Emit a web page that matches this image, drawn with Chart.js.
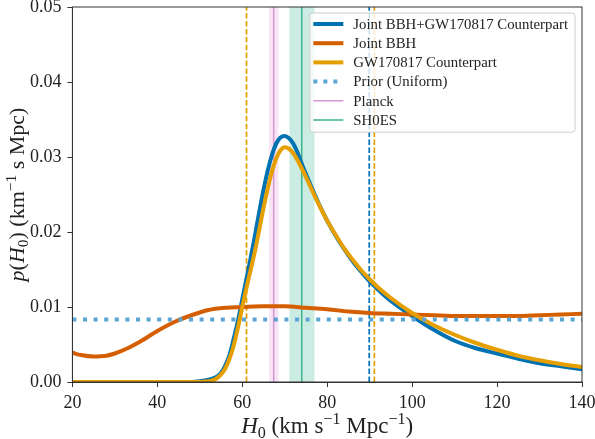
<!DOCTYPE html>
<html>
<head>
<meta charset="utf-8">
<script src="https://cdn.jsdelivr.net/npm/chart.js@4.4.1/dist/chart.umd.min.js"></script>
<style>
	html, body { margin: 0; padding: 0; background: #fff; }
	#wrap { width: 595px; height: 439px; }
</style>
</head>
<body>
<div id="wrap"><canvas id="myChart" width="595" height="439"></canvas></div>
<script>
// Eixos
const xTicks = [20, 40, 60, 80, 100, 120, 140];
const yTicks = [0, 0.01, 0.02, 0.03, 0.04, 0.05];

// Joint BBH+GW170817 Counterpart (blau)
const xJoint = [20, 40, 48, 50, 52, 54, 55, 56, 57, 58, 59, 60, 61, 62, 63, 64, 65, 66, 67, 68, 69, 70, 71, 72, 73, 74, 76, 78, 80, 82, 84, 86, 88, 90, 92, 95, 100, 105, 110, 115, 120, 125, 130, 135, 140];
const yJoint = [0, 0, 0, 0.0001, 0.0003, 0.0007, 0.0012, 0.0022, 0.0036, 0.0058, 0.0082, 0.0110, 0.0138, 0.0166, 0.0196, 0.0227, 0.0256, 0.0282, 0.0303, 0.0318, 0.0326, 0.0328, 0.0325, 0.0318, 0.0306, 0.0291, 0.0264, 0.0238, 0.0215, 0.0195, 0.0177, 0.0161, 0.0147, 0.0134, 0.0123, 0.0108, 0.0088, 0.0070, 0.0055, 0.0045, 0.0038, 0.0031, 0.0025, 0.0021, 0.0017];

// Joint BBH (vermell)
const xBBH = [20, 22, 25, 28, 30, 33, 36, 40, 44, 48, 52, 56, 60, 65, 70, 75, 80, 85, 90, 95, 100, 105, 110, 115, 120, 125, 130, 135, 140];
const yBBH = [0.0039, 0.0036, 0.0034, 0.0035, 0.0038, 0.0045, 0.0054, 0.0068, 0.0080, 0.0089, 0.0096, 0.0099, 0.0100, 0.0101, 0.0101, 0.0099, 0.0097, 0.0094, 0.0092, 0.0091, 0.0090, 0.0089, 0.0088, 0.0088, 0.0088, 0.0088, 0.0089, 0.0090, 0.0091];

// GW170817 Counterpart (taronja)
const xGW = [20, 40, 48, 50, 52, 53, 54, 55, 56, 57, 58, 59, 60, 61, 62, 63, 64, 65, 66, 67, 68, 69, 70, 71, 72, 73, 74, 76, 78, 80, 82, 84, 86, 88, 90, 92, 95, 100, 105, 110, 115, 120, 125, 130, 135, 140];
const yGW = [0, 0, 0, 0, 0.0001, 0.0002, 0.0005, 0.0010, 0.0018, 0.0031, 0.0049, 0.0073, 0.0100, 0.0126, 0.0150, 0.0175, 0.0203, 0.0232, 0.0258, 0.0281, 0.0298, 0.0309, 0.0313, 0.0311, 0.0305, 0.0296, 0.0285, 0.0261, 0.0237, 0.0215, 0.0196, 0.0178, 0.0163, 0.0149, 0.0137, 0.0126, 0.0112, 0.0092, 0.0076, 0.0063, 0.0052, 0.0043, 0.0035, 0.0029, 0.0024, 0.0020];

// Prior uniforme
const xPrior = [20, 140];
const yPrior = [0.00833, 0.00833];

// Planck i SH0ES: [valor, min, max]
const planck = [67.4, 66.3, 68.5];
const shoes = [74.0, 71.1, 77.0];

// límits dels intervals (línies discontínues)
const limitsJoint = [89.9];
const limitsGW = [61.0, 91.1];

const noms = ['Joint BBH+GW170817 Counterpart', 'Joint BBH', 'GW170817 Counterpart', 'Prior (Uniform)', 'Planck', 'SH0ES'];

const blau = '#0072b2';
const vermell = '#d55e00';
const taronja = '#e69f00';
const blauClar = '#5aa5d6';
const rosa = '#d895d3';
const verd = '#3db38d';
const serif = "'Liberation Serif', 'DejaVu Serif', serif";

function punts(xs, ys) {
	return xs.map((x, i) => ({ x: x, y: ys[i] }));
}

function corba(label, xs, ys, color, ordre) {
	return {
		label: label,
		data: punts(xs, ys),
		borderColor: color,
		borderWidth: 4,
		pointRadius: 0,
		cubicInterpolationMode: 'monotone',
		fill: false,
		order: ordre
	};
}

// bandes i línies verticals, per sota de les corbes
const fons = {
	id: 'fons',
	beforeDatasetsDraw(chart) {
		const { ctx, chartArea: a, scales: { x } } = chart;
		ctx.save();
		ctx.beginPath();
		ctx.rect(a.left, a.top, a.right - a.left, a.bottom - a.top);
		ctx.clip();
		const banda = (v, color, linia) => {
			const x0 = x.getPixelForValue(v[1]);
			const x1 = x.getPixelForValue(v[2]);
			ctx.fillStyle = color;
			ctx.fillRect(x0, a.top, x1 - x0, a.bottom - a.top);
			ctx.strokeStyle = linia;
			ctx.lineWidth = 1.5;
			ctx.setLineDash([]);
			const xc = x.getPixelForValue(v[0]);
			ctx.beginPath();
			ctx.moveTo(xc, a.top);
			ctx.lineTo(xc, a.bottom);
			ctx.stroke();
		};
		banda(planck, 'rgba(230,170,225,0.3)', rosa);
		banda(shoes, 'rgba(70,185,150,0.28)', verd);
		const discont = (v, color) => {
			const xc = x.getPixelForValue(v);
			ctx.strokeStyle = color;
			ctx.lineWidth = 1.7;
			ctx.setLineDash([5.5, 2.4]);
			ctx.beginPath();
			ctx.moveTo(xc, a.bottom);
			ctx.lineTo(xc, a.top);
			ctx.stroke();
		};
		limitsJoint.forEach(v => discont(v, blau));
		limitsGW.forEach(v => discont(v, taronja));
		ctx.restore();
	}
};

// marc i llegenda
const marc = {
	id: 'marc',
	afterDatasetsDraw(chart) {
		const { ctx, chartArea: a } = chart;
		ctx.save();
		ctx.strokeStyle = '#333';
		ctx.lineWidth = 1;
		ctx.setLineDash([]);
		ctx.strokeRect(a.left, a.top, a.right - a.left, a.bottom - a.top);

		// llegenda
		ctx.font = '14.8px ' + serif;
		let ample = 0;
		noms.forEach(n => { ample = Math.max(ample, ctx.measureText(n).width); });
		const fila = 19.2;
		const w = 3.5 + 30 + 10 + ample + 7;
		const h = fila * noms.length + 4;
		const x0 = a.right - 7 - w;
		const y0 = a.top + 6;
		ctx.fillStyle = 'rgba(255,255,255,0.8)';
		ctx.strokeStyle = '#cccccc';
		ctx.beginPath();
		ctx.roundRect(x0, y0, w, h, 3);
		ctx.fill();
		ctx.stroke();

		const estils = [
			{ color: blau, gruix: 4, dash: [] },
			{ color: vermell, gruix: 4, dash: [] },
			{ color: taronja, gruix: 4, dash: [] },
			{ color: blauClar, gruix: 4, dash: [4, 6] },
			{ color: rosa, gruix: 1.5, dash: [] },
			{ color: verd, gruix: 1.5, dash: [] }
		];
		noms.forEach((n, i) => {
			const yc = y0 + 11 + i * fila;
			const e = estils[i];
			ctx.strokeStyle = e.color;
			ctx.lineWidth = e.gruix;
			ctx.setLineDash(e.dash);
			ctx.beginPath();
			ctx.moveTo(x0 + 3.5, yc);
			ctx.lineTo(x0 + 33.5, yc);
			ctx.stroke();
			ctx.fillStyle = '#222';
			ctx.textBaseline = 'middle';
			ctx.textAlign = 'left';
			ctx.fillText(n, x0 + 43.5, yc + 1);
		});
		ctx.restore();
	}
};

// títols dels eixos amb cursiva, subíndex i superíndex
function escriu(ctx, trossos, mida) {
	let total = 0;
	trossos.forEach(t => {
		ctx.font = (t.it ? 'italic ' : '') + (t.sub || t.sup ? mida * 0.7 : mida) + 'px ' + serif;
		t.w = ctx.measureText(t.t).width;
		total += t.w;
	});
	let x = -total / 2;
	trossos.forEach(t => {
		ctx.font = (t.it ? 'italic ' : '') + (t.sub || t.sup ? mida * 0.7 : mida) + 'px ' + serif;
		let dy = 0;
		if (t.sub) dy = mida * 0.2;
		if (t.sup) dy = -mida * 0.38;
		ctx.fillText(t.t, x, dy);
		x += t.w;
	});
}

const titols = {
	id: 'titols',
	afterDraw(chart) {
		const { ctx, chartArea: a } = chart;
		ctx.save();
		ctx.fillStyle = '#222';
		ctx.textBaseline = 'alphabetic';
		ctx.textAlign = 'left';
		ctx.translate((a.left + a.right) / 2, 433);
		escriu(ctx, [
			{ t: 'H', it: true }, { t: '0', sub: true }, { t: ' (km s' }, { t: '\u22121', sup: true },
			{ t: ' Mpc' }, { t: '\u22121', sup: true }, { t: ')' }
		], 23);
		ctx.restore();

		ctx.save();
		ctx.fillStyle = '#222';
		ctx.textBaseline = 'alphabetic';
		ctx.textAlign = 'left';
		ctx.translate(24, (a.top + a.bottom) / 2);
		ctx.rotate(-Math.PI / 2);
		escriu(ctx, [
			{ t: 'p', it: true }, { t: '(' }, { t: 'H', it: true }, { t: '0', sub: true }, { t: ') (km' },
			{ t: '\u22121', sup: true }, { t: ' s Mpc)' }
		], 22);
		ctx.restore();
	}
};

const config = {
	type: 'line',
	data: {
		datasets: [
			corba(noms[0], xJoint, yJoint, blau, 4),
			corba(noms[1], xBBH, yBBH, vermell, 3),
			corba(noms[2], xGW, yGW, taronja, 2),
			{
				label: noms[3],
				data: punts(xPrior, yPrior),
				borderColor: blauClar,
				borderWidth: 4,
				borderDash: [4, 6.6],
				pointRadius: 0,
				fill: false,
				order: 1
			}
		]
	},
	options: {
		responsive: false,
		animation: false,
		layout: { padding: 0 },
		plugins: { legend: { display: false }, tooltip: { enabled: false } },
		scales: {
			x: {
				type: 'linear',
				min: 20,
				max: 140,
				afterBuildTicks: (s) => { s.ticks = xTicks.map(v => ({ value: v })); },
				afterFit: (s) => { s.height = 57; s.paddingRight = 13; s.paddingLeft = 0; },
				grid: { drawOnChartArea: false, drawTicks: true, tickLength: 5, color: '#333' },
				border: { display: true, color: '#333', width: 1 },
				ticks: { color: '#222', padding: 5, maxRotation: 0, font: { family: serif, size: 18 } }
			},
			y: {
				type: 'linear',
				min: 0,
				max: 0.05,
				afterBuildTicks: (s) => { s.ticks = yTicks.map(v => ({ value: v })); },
				afterFit: (s) => { s.width = 72.4; s.paddingTop = 7; s.paddingBottom = 0; },
				grid: { drawOnChartArea: false, drawTicks: true, tickLength: 5, color: '#333' },
				border: { display: true, color: '#333', width: 1 },
				ticks: {
					color: '#222', padding: 6, font: { family: serif, size: 18 },
					callback: (v) => v.toFixed(2)
				}
			}
		}
	},
	plugins: [fons, marc, titols]
};

const myChart = new Chart(document.getElementById('myChart'), config);
</script>
</body>
</html>
